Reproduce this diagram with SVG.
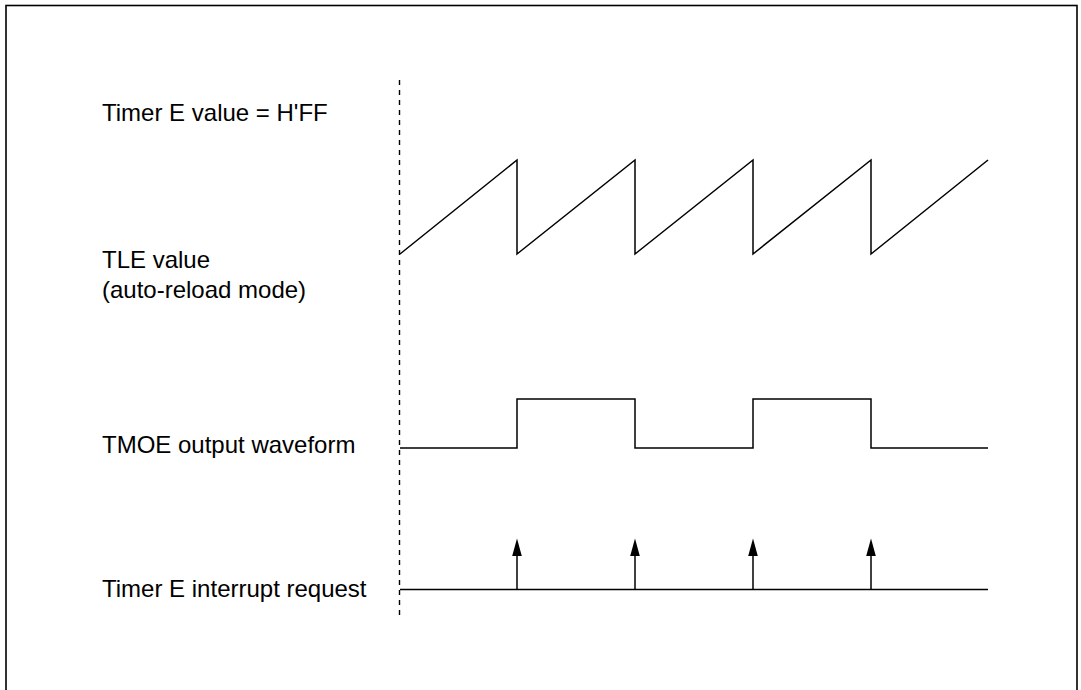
<svg xmlns="http://www.w3.org/2000/svg" width="1081" height="690" viewBox="0 0 1081 690">
<defs>
<style>
.lbl{font-family:"Liberation Sans",Arial,sans-serif;font-size:24px;fill:#000}
.wave{fill:none;stroke:#000;stroke-width:1.5;stroke-linejoin:miter}
.dash{fill:none;stroke:#000;stroke-width:1.4;stroke-dasharray:5 5}
.head{fill:#000;stroke:none}
</style>
</defs>
<rect x="6" y="5.5" width="1071" height="700" fill="#fff" stroke="#000" stroke-width="1.6"/>
<g id="labels">
<text id="lbl-ff" class="lbl" x="102" y="121">Timer E value = H'FF</text>
<g id="lbl-tle"><text class="lbl" x="102" y="268">TLE value</text><text class="lbl" x="102" y="298">(auto-reload mode)</text></g>
<text id="lbl-tmoe" class="lbl" x="102" y="453">TMOE output waveform</text>
<text id="lbl-irq" class="lbl" x="102" y="597">Timer E interrupt request</text>
</g>
<g id="connectors">
<line id="ref-line" class="dash" x1="399.5" y1="80" x2="399.5" y2="617"/>
<polyline id="tle-wave" class="wave" points="400,254 517,160 517,254 635,160 635,254 753,160 753,254 871,160 871,254 988,160"/>
<polyline id="tmoe-wave" class="wave" points="400,448 517,448 517,399 635,399 635,448 753,448 753,399 871,399 871,448 988,448"/>
<line id="irq-base" class="wave" x1="400" y1="589.5" x2="988" y2="589.5"/>
<g id="irq-arrows">
<line class="wave" x1="517" y1="589.5" x2="517" y2="555"/><path class="head" d="M517,538.5 L521.8,556 L512.2,556 Z"/>
<line class="wave" x1="635" y1="589.5" x2="635" y2="555"/><path class="head" d="M635,538.5 L639.8,556 L630.2,556 Z"/>
<line class="wave" x1="753" y1="589.5" x2="753" y2="555"/><path class="head" d="M753,538.5 L757.8,556 L748.2,556 Z"/>
<line class="wave" x1="871" y1="589.5" x2="871" y2="555"/><path class="head" d="M871,538.5 L875.8,556 L866.2,556 Z"/>
</g>
</g>
</svg>
